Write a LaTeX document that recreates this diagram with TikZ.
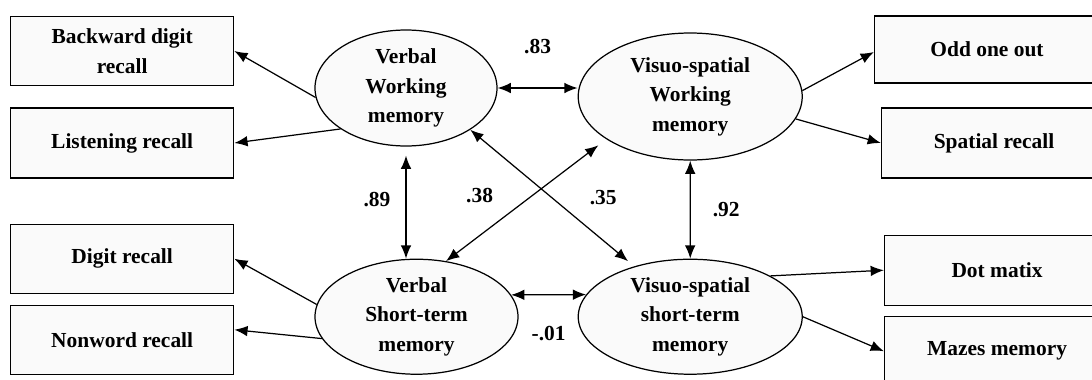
\documentclass[tikz,border=0pt]{standalone}
\usepackage{fontspec}
\setmainfont{Liberation Serif}
\usetikzlibrary{positioning,shapes,arrows.meta}

\begin{document}
\begin{tikzpicture}[font=\fontsize{12.2}{16.8}\selectfont\bfseries,
	latent/.style={ellipse, draw=black, line width=0.7pt, fill=black!2, inner sep=0pt, align=center},
	measure/.style={rectangle, draw=black, line width=0.8pt, fill=black!2, minimum width=4.46cm, minimum height=1.38cm, align=center},
	load/.style={-{Latex[length=7.5pt,width=6pt]}, line width=0.7pt},
	covar/.style={{Latex[length=7.5pt,width=6pt]}-{Latex[length=7.5pt,width=6pt]}, line width=0.7pt}]
	\useasboundingbox (0,0) rectangle (21.84,7.58);

	\node (vwm) [latent, minimum width=3.64cm, minimum height=2.32cm] at (8.12,5.82) {Verbal\\Working\\memory};
	\node (vswm) [latent, minimum width=4.48cm, minimum height=2.54cm, right=1.6cm of vwm, yshift=-0.17cm] {Visuo-spatial\\Working\\memory};
	\node (vstm) [latent, minimum width=4.06cm, minimum height=2.30cm, below=2.24cm of vwm, xshift=0.21cm] {Verbal\\Short-term\\memory};
	\node (vsstm) [latent, minimum width=4.48cm, minimum height=2.30cm, right=1.18cm of vstm] {Visuo-spatial\\short-term\\memory};

	\node (bdr) [measure, left=1.6cm of vwm, yshift=0.74cm] {Backward digit\\recall};
	\node (lr) [measure, minimum height=1.40cm, left=1.6cm of vwm, yshift=-1.1cm] {Listening recall};
	\node (dr) [measure, left=1.6cm of vstm, yshift=1.16cm] {Digit recall};
	\node (nr) [measure, left=1.6cm of vstm, yshift=-0.46cm] {Nonword recall};
	\node (ooo) [measure, minimum width=4.5cm, minimum height=1.34cm, right=1.42cm of vswm, yshift=0.94cm] {Odd one out};
	\node (sr) [measure, minimum width=4.5cm, minimum height=1.40cm, right=1.56cm of vswm, yshift=-0.93cm] {Spatial recall};
	\node (dm) [measure, minimum width=4.5cm, minimum height=1.40cm, right=1.62cm of vsstm, yshift=0.93cm] {Dot matix};
	\node (mm) [measure, minimum width=4.5cm, minimum height=1.40cm, right=1.62cm of vsstm, yshift=-0.69cm] {Mazes memory};

	\draw [load] (vwm.186) -- (bdr.east);
	\draw [load] (vwm.212) -- (lr.east);
	\draw [load] (vstm.173) -- (dr.east);
	\draw [load] (vstm.193) -- ([yshift=0.2cm]nr.east);
	\draw [load] (vswm.3) -- ([yshift=-0.05cm]ooo.west);
	\draw [load] (vswm.348) -- (sr.west);
	\draw [load] (vsstm.27) -- (dm.west);
	\draw [load] (vsstm.east) -- (mm.west);

	\draw [covar] (vwm.east) -- (vwm.east -| vswm.west) node (l83) [midway, yshift=0.82cm] {.83};
	\draw [covar] (vstm.13) -- (vsstm.168) node (l01) [midway, yshift=-0.77cm] {-.01};
	\draw [covar, shorten <=0.18cm] (vwm.south) -- (vwm.south |- vstm.north) node (l89) [midway, xshift=-0.58cm, yshift=0.06cm] {.89};
	\draw [covar] (vswm.south) -- (vsstm.north) node (l92) [midway, xshift=0.72cm] {.92};
	\draw [covar, shorten >=0.16cm] (vwm.327) -- (vsstm.138) node (l35) [pos=0.5, xshift=1.02cm] {.35};
	\draw [covar, shorten <=0.2cm] (vswm.207) -- (vstm.62) node (l38) [pos=0.46, xshift=-1.06cm] {.38};
\end{tikzpicture}
\end{document}
